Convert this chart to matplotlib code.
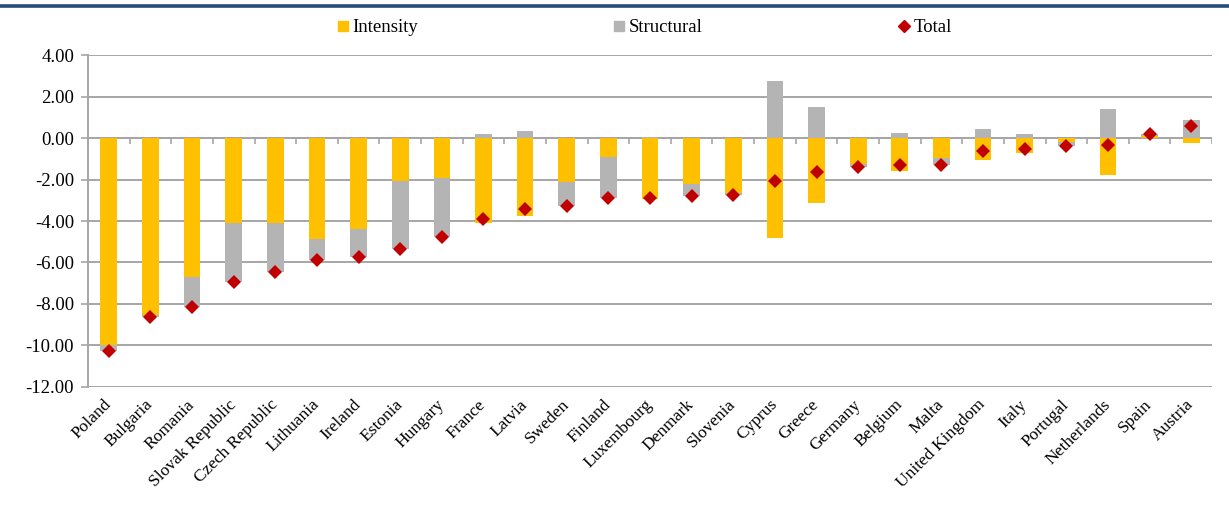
import numpy as np
import matplotlib
matplotlib.use("Agg")
import matplotlib.pyplot as plt
from matplotlib.lines import Line2D
from matplotlib.transforms import ScaledTranslation

countries = ["Poland", "Bulgaria", "Romania", "Slovak Republic", "Czech Republic",
             "Lithuania", "Ireland", "Estonia", "Hungary", "France", "Latvia",
             "Sweden", "Finland", "Luxembourg", "Denmark", "Slovenia", "Cyprus",
             "Greece", "Germany", "Belgium", "Malta", "United Kingdom", "Italy",
             "Portugal", "Netherlands", "Spain", "Austria"]

intensity = [-10.00, -8.55, -6.71, -4.11, -4.11, -4.88, -4.40, -2.07, -1.94,
             -4.11, -3.74, -2.10, -0.93, -2.92, -2.23, -2.67, -4.80, -3.12,
             -1.25, -1.58, -0.95, -1.05, -0.72, -0.18, -1.77, 0.08, -0.26]
structural = [-0.28, -0.10, -1.42, -2.81, -2.36, -1.00, -1.35, -3.28, -2.85,
              0.21, 0.34, -1.16, -1.95, 0.05, -0.55, -0.10, 2.75, 1.48,
              -0.16, 0.26, -0.33, 0.42, 0.21, -0.20, 1.41, 0.10, 0.85]
total = [-10.28, -8.65, -8.13, -6.92, -6.47, -5.88, -5.75, -5.35, -4.79,
         -3.90, -3.40, -3.26, -2.88, -2.87, -2.78, -2.77, -2.05, -1.64,
         -1.41, -1.32, -1.28, -0.63, -0.51, -0.38, -0.36, 0.18, 0.59]

yticks = [4, 2, 0, -2, -4, -6, -8, -10, -12]

YELLOW = "#FFC000"
GREY = "#B4B4B4"
RED = "#C00000"
GRID = "#A6A6A6"

plt.rcParams["font.family"] = ["Liberation Serif", "DejaVu Serif"]

fig = plt.figure(figsize=(12.29, 5.07), dpi=100)
ax = fig.add_axes([0.0716, 0.2367, 0.9146, 0.6548])

x = np.arange(len(countries))
inten = np.array(intensity)
struc = np.array(structural)

# excel-style stacking: positives pile up from zero, negatives pile down from zero
struc_bottom = np.where(np.sign(struc) == np.sign(inten), inten, 0.0)

ax.bar(x, inten, width=0.4, color=YELLOW, linewidth=0, zorder=2)
ax.bar(x, struc, width=0.4, bottom=struc_bottom, color=GREY, linewidth=0, zorder=2)
ax.plot(x, total, linestyle="none", marker="D", markersize=7.5,
        color=RED, markeredgewidth=0, zorder=4)

ax.set_xlim(-0.5, len(countries) - 0.5)
ax.set_ylim(-12, 4)
ax.set_yticks(yticks)
ax.set_yticklabels([f"{v:.2f}" for v in yticks], fontsize=13.5)
ax.yaxis.grid(True, color=GRID, linewidth=1.4, zorder=0)
ax.set_axisbelow(True)
ax.tick_params(axis="y", length=5, width=1.2, color=GRID, pad=5)

ax.set_xticks(x)
ax.set_xticklabels(countries, rotation=45, ha="right", rotation_mode="anchor",
                   fontsize=12.5)
ax.tick_params(axis="x", length=0, pad=7)
shift = ScaledTranslation(-4 / 72, 0, fig.dpi_scale_trans)
for lbl in ax.get_xticklabels():
    lbl.set_transform(lbl.get_transform() + shift)

for side in ["top", "right", "bottom"]:
    ax.spines[side].set_visible(False)
ax.spines["left"].set_color(GRID)
ax.spines["left"].set_linewidth(1.4)

# category axis sits on zero with small ticks between groups
ax.axhline(0, color=GRID, linewidth=1.4, zorder=1)
ax.vlines(np.arange(len(countries) + 1) - 0.5, -0.28, 0, color=GRID,
          linewidth=1.2, zorder=1)

handles = [
    Line2D([], [], linestyle="none", marker="s", markersize=7, color=YELLOW),
    Line2D([], [], linestyle="none", marker="s", markersize=7, color=GREY),
    Line2D([], [], linestyle="none", marker="D", markersize=6.5, color=RED),
]
fig.legend(handles, ["Intensity", "Structural", "Total"], loc="center",
           bbox_to_anchor=(0.524, 0.945), ncol=3, frameon=False, fontsize=13.5,
           handlelength=0.7, handletextpad=0.15, columnspacing=10.4)

# rule across the top of the page
fig.add_artist(Line2D([0, 1], [1 - 5.5 / 507, 1 - 5.5 / 507],
                      transform=fig.transFigure, color="#234B7C", linewidth=2.6))

fig.savefig("out.png", dpi=100)
